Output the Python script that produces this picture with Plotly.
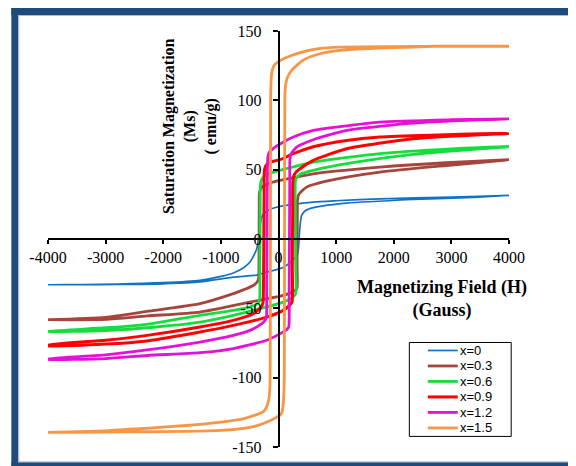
import plotly.graph_objects as go

# ---------------- data ----------------
series_names = ["x=0", "x=0.3", "x=0.6", "x=0.9", "x=1.2", "x=1.5"]
series_colors = ["#1272C6", "#A5453E", "#16DD3E", "#FF0000", "#E511D6", "#F79646"]
series_widths = [1.7, 2.8, 2.8, 3.0, 2.8, 2.8]

# x = 0 (descending branch / ascending branch)
H_up_0 = [4000, 3000, 1760, 1000, 604, 26, -118, -220, -291, -320, -340, -355, -378, -430, -494, -600, -784, -1000, -1361, -2000, -2800, -3400, -4000]
M_up_0 = [31.4, 30.2, 29, 27.6, 26.6, 23.5, 21.8, 19.5, 15.8, 10, 3, -2, -7, -12, -16.6, -20.5, -24.5, -27, -29.8, -31.5, -32.5, -32.8, -33]
H_dn_0 = [-4000, -3400, -2800, -2000, -1361, -784, -372, -205, 83, 250, 330, 350, 365, 380, 402, 459, 604, 1182, 2337, 3493, 4000]
M_dn_0 = [-33, -33, -32.8, -32.3, -31, -27.5, -26, -23.9, -20.5, -15, -11, -5, 5, 12, 17, 20.2, 22.6, 25.9, 28.5, 30.2, 31.4]

# x = 0.3
H_up_1 = [4000, 2900, 1760, 604, 26, -147, -291, -320, -332, -335, -337, -340, -345, -370, -437, -600, -784, -1361, -2280, -3000, -4000]
M_up_1 = [57.2, 55, 51.8, 47, 42.2, 40.3, 37.4, 35, 33, 20, 0, -20, -28.6, -31, -33.5, -36.5, -39.4, -46.6, -52.2, -56.5, -58.2]
H_dn_1 = [-4000, -3000, -2280, -1361, -494, 83, 250, 318, 322, 325, 327, 330, 350, 488, 893, 1760, 2916, 4000]
M_dn_1 = [-58.2, -58, -55.5, -52.7, -45.5, -40.7, -38, -35.8, -20, 0, 20, 28, 32, 37.4, 42.2, 48.2, 53, 57]

# x = 0.6
H_up_2 = [4000, 3000, 1760, 604, 26, -90, -234, -300, -315, -318, -321, -324, -328, -360, -494, -784, -1361, -2280, -3000, -4000]
M_up_2 = [66.8, 65, 61.5, 55.4, 49.5, 48.2, 45.9, 42, 38.6, 20, 0, -20, -43, -46.5, -49, -51.5, -55, -61.5, -64, -66.7]
H_dn_2 = [-4000, -3000, -2280, -1361, -784, -205, 83, 250, 300, 298, 295, 292, 290, 300, 373, 604, 1182, 2337, 3493, 4000]
M_dn_2 = [-66.8, -66, -64, -59.9, -55, -49, -45.5, -42, -39.4, -20, 0, 20, 40, 43, 46.6, 49.5, 54.3, 61, 65.1, 66.5]

# x = 0.9
H_up_3 = [4000, 3493, 1760, 1182, 604, 257, 26, -147, -225, -245, -250, -255, -260, -270, -300, -437, -784, -1361, -2280, -3000, -4000]
M_up_3 = [76, 75.9, 73.5, 71, 66.5, 61.5, 57.2, 55.4, 52.5, 49, 30, 0, -30, -46, -49, -53.9, -58.7, -63.5, -69.5, -73, -76.6]
H_dn_3 = [-4000, -3000, -2280, -1361, -784, -205, 83, 200, 235, 240, 243, 246, 248, 262, 300, 373, 604, 1182, 2337, 3493, 4000]
M_dn_3 = [-77, -75.8, -73.5, -67.1, -62.3, -56.3, -51.5, -47.5, -45.5, -20, 0, 20, 40, 45, 48, 50.7, 56.7, 65.1, 72.3, 75.2, 76]

# x = 1.2
H_up_4 = [4000, 3000, 1760, 1066, 604, 257, 26, -100, -160, -185, -195, -200, -205, -210, -240, -291, -494, -784, -1361, -2280, -3000, -4000]
M_up_4 = [86.7, 86, 84.3, 81, 78.3, 73.5, 68.5, 65, 62.5, 59, 40, 0, -40, -56.3, -59, -61, -65.9, -69.5, -74.3, -80, -83.5, -86.5]
H_dn_4 = [-4000, -3000, -2280, -1361, -784, -205, 83, 150, 178, 185, 190, 195, 198, 215, 315, 604, 1182, 2337, 3493, 4000]
M_dn_4 = [-86.8, -86.2, -84, -82, -79, -73, -67, -65, -63.5, -40, 0, 40, 57, 61, 66.3, 71.6, 78.3, 83.6, 86, 86.5]

# x = 1.5
H_up_5 = [4000, 2700, 2000, 1066, 700, 425, 200, 30, -60, -100, -120, -130, -136, -140, -145, -150, -165, -205, -263, -370, -600, -1000, -1600, -2300, -3000, -4000]
M_up_5 = [139, 139, 138.8, 138.4, 137.3, 135, 132, 128.7, 126, 123, 119, 112, 100, 0, -100, -108, -115, -121, -124.5, -126.5, -129.5, -132, -134.5, -136.5, -138.3, -139.5]
H_dn_5 = [-4000, -3000, -2300, -1600, -1000, -600, -370, -200, -50, 30, 60, 80, 95, 100, 105, 110, 120, 150, 228, 430, 720, 1066, 1545, 2178, 2700, 4000]
M_dn_5 = [-139.5, -139.3, -139, -138.7, -138, -136.5, -134.6, -132, -129, -127, -125, -120, -110, -100, 0, 100, 110, 116, 121.6, 129, 133.6, 136, 137.3, 138.2, 139, 139]

H_up = [H_up_0, H_up_1, H_up_2, H_up_3, H_up_4, H_up_5]
M_up = [M_up_0, M_up_1, M_up_2, M_up_3, M_up_4, M_up_5]
H_dn = [H_dn_0, H_dn_1, H_dn_2, H_dn_3, H_dn_4, H_dn_5]
M_dn = [M_dn_0, M_dn_1, M_dn_2, M_dn_3, M_dn_4, M_dn_5]

x_ticks = [-4000, -3000, -2000, -1000, 0, 1000, 2000, 3000, 4000]
y_ticks = [-150, -100, -50, 0, 50, 100, 150]

# ---------------- figure geometry (page pixels; the page body has an 8px margin) ----------------
OFF = 8
W, H = 576 - OFF, 466 - OFF
PLOT_L, PLOT_R, PLOT_T, PLOT_B = 47.7, 509.3, 31.0, 447.3
ML = PLOT_L - OFF
MR = 576 - PLOT_R
MT = PLOT_T - OFF
MB = 466 - PLOT_B - OFF


def px(xp):
    return (xp - PLOT_L) / (PLOT_R - PLOT_L)


def py(yp):
    return (PLOT_B - yp) / (PLOT_B - PLOT_T)


fig = go.Figure()
for i, name in enumerate(series_names):
    fig.add_trace(go.Scatter(
        x=H_up[i] + H_dn[i], y=M_up[i] + M_dn[i], mode="lines", name=name,
        line=dict(color=series_colors[i], width=series_widths[i], shape="spline", smoothing=0.6),
        showlegend=False,
    ))

serif = "Liberation Serif, Times New Roman, serif"
sans = "Liberation Sans, Arial, sans-serif"
fig.update_xaxes(
    range=[-4000, 4000], tickvals=x_ticks, ticktext=[str(v) for v in x_ticks],
    showgrid=False, zeroline=False, showline=True, linecolor="black", linewidth=1.5,
    ticks="outside", ticklen=4, tickwidth=1.5, tickcolor="black",
    anchor="free", position=0.5, tickfont=dict(family=serif, size=16, color="black"),
)
fig.update_yaxes(
    range=[-150, 150], tickvals=y_ticks, ticktext=[str(v) for v in y_ticks],
    showgrid=False, zeroline=False, showline=True, linecolor="black", linewidth=1.5,
    ticks="outside", ticklen=5, tickwidth=1.5, tickcolor="black", ticklabelstandoff=8,
    anchor="free", position=px(278.5), tickfont=dict(family=serif, size=16, color="black"),
)

shapes = []
dark = "#1F4A7C"
light = "#A9BCD6"


def rect(x0, x1, y0, y1, color, width=0, fill=True):
    d = dict(type="rect", xref="paper", yref="paper", x0=px(x0), x1=px(x1), y0=py(y0), y1=py(y1), layer="above")
    if fill:
        d.update(fillcolor=color, line_width=0)
    else:
        d.update(fillcolor="white", line=dict(color=color, width=width))
    return d


shapes.append(rect(11, 600, 8, 15, dark))
shapes.append(rect(11, 18, 8, 480, dark))
shapes.append(rect(11, 600, 462.5, 480, dark))
shapes.append(rect(18, 600, 15, 16, light))
shapes.append(rect(18, 19, 15, 462.5, light))
shapes.append(rect(18, 600, 461.5, 462.5, light))

# legend box drawn by hand
legend_rows = [350.7, 366.2, 381.7, 397.2, 412.7, 428.2]
shapes.append(rect(409.5, 511.5, 342.7, 436.7, "black", width=1, fill=False))

annotations = [
    dict(text="<b>Saturation Magnetization<br>(Ms)<br>( emu/g)</b>", xref="paper", yref="paper",
         x=px(190), y=py(126), xanchor="center", yanchor="middle", textangle=-90, showarrow=False,
         font=dict(family=serif, size=16, color="black")),
    dict(text="<b>Magnetizing Field (H)<br>(Gauss)</b>", xref="paper", yref="paper",
         x=px(442), y=py(299), xanchor="center", yanchor="middle", showarrow=False,
         font=dict(family=serif, size=18, color="black")),
]
for i, name in enumerate(series_names):
    yr = legend_rows[i]
    shapes.append(dict(type="line", xref="paper", yref="paper", x0=px(428), x1=px(458), y0=py(yr), y1=py(yr),
                       line=dict(color=series_colors[i], width=series_widths[i]), layer="above"))
    annotations.append(dict(text=name, xref="paper", yref="paper", x=px(458), y=py(yr),
                            xanchor="left", yanchor="middle", showarrow=False,
                            font=dict(family=sans, size=13, color="black")))

fig.update_layout(
    width=W, height=H, autosize=False,
    margin=dict(l=ML, r=MR, t=MT, b=MB, pad=0),
    paper_bgcolor="white", plot_bgcolor="white",
    showlegend=False,
    shapes=shapes, annotations=annotations,
)

fig.write_html("out.html")
